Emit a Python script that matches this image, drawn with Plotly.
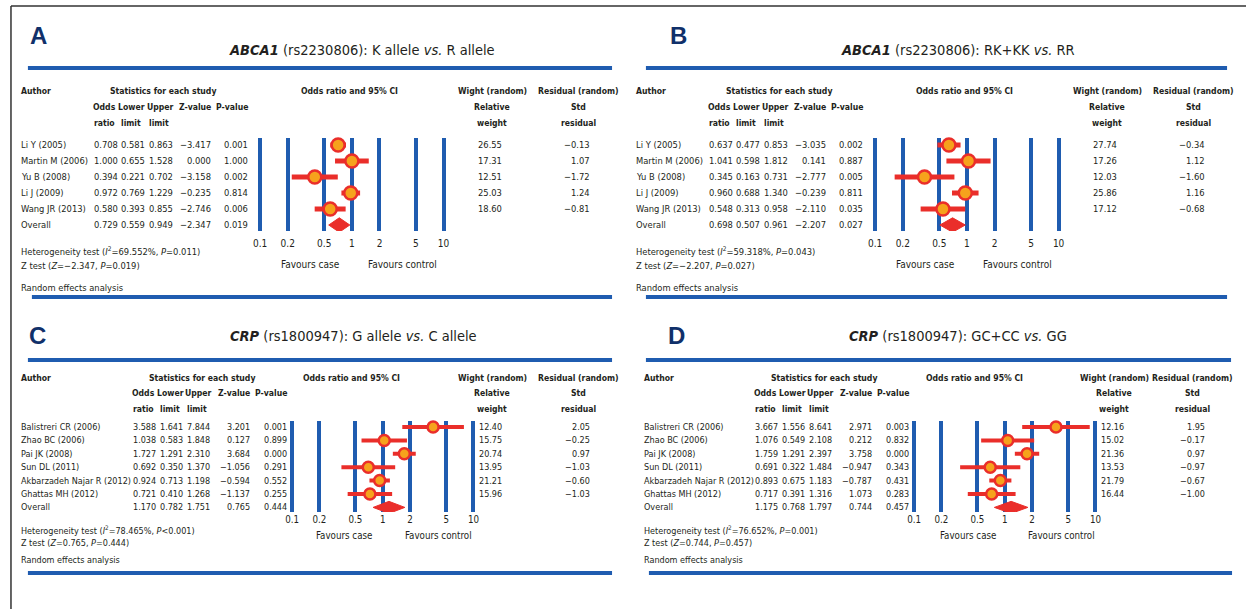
import plotly.graph_objects as go

W, H = 1247, 609
FONT = "DejaVu Sans Condensed, Liberation Sans Narrow, Arial Narrow, sans-serif"
TXT = "#231f20"
RED = "#ea2e2a"
ORANGE = "#f6a21c"
BLUE = "#1f5cb0"
NAVY = "#10306a"

# ---------------- data ----------------
tick_vals = [0.1, 0.2, 0.5, 1, 2, 5, 10]
tick_text = ["0.1", "0.2", "0.5", "1", "2", "5", "10"]

a_authors = ["Li Y (2005)", "Martin M (2006)", "Yu B (2008)", "Li J (2009)", "Wang JR (2013)"]
a_or = [0.708, 1.000, 0.394, 0.972, 0.580]
a_lower = [0.581, 0.655, 0.221, 0.769, 0.393]
a_upper = [0.863, 1.528, 0.702, 1.229, 0.855]
a_z = [-3.417, 0.000, -3.158, -0.235, -2.746]
a_p = [0.001, 1.000, 0.002, 0.814, 0.006]
a_weight = [26.55, 17.31, 12.51, 25.03, 18.60]
a_resid = [-0.13, 1.07, -1.72, 1.24, -0.81]
a_overall = [0.729, 0.559, 0.949, -2.347, 0.019]
a_het = ["69.552%", "<i>P</i>=0.011"]
a_ztest = ["\u22122.347", "0.019"]

b_authors = ["Li Y (2005)", "Martin M (2006)", "Yu B (2008)", "Li J (2009)", "Wang JR (2013)"]
b_or = [0.637, 1.041, 0.345, 0.960, 0.548]
b_lower = [0.477, 0.598, 0.163, 0.688, 0.313]
b_upper = [0.853, 1.812, 0.731, 1.340, 0.958]
b_z = [-3.035, 0.141, -2.777, -0.239, -2.110]
b_p = [0.002, 0.887, 0.005, 0.811, 0.035]
b_weight = [27.74, 17.26, 12.03, 25.86, 17.12]
b_resid = [-0.34, 1.12, -1.60, 1.16, -0.68]
b_overall = [0.698, 0.507, 0.961, -2.207, 0.027]
b_het = ["59.318%", "<i>P</i>=0.043"]
b_ztest = ["\u22122.207", "0.027"]

c_authors = ["Balistreri CR (2006)", "Zhao BC (2006)", "Pai JK (2008)", "Sun DL (2011)",
             "Akbarzadeh Najar R (2012)", "Ghattas MH (2012)"]
c_or = [3.588, 1.038, 1.727, 0.692, 0.924, 0.721]
c_lower = [1.641, 0.583, 1.291, 0.350, 0.713, 0.410]
c_upper = [7.844, 1.848, 2.310, 1.370, 1.198, 1.268]
c_z = [3.201, 0.127, 3.684, -1.056, -0.594, -1.137]
c_p = [0.001, 0.899, 0.000, 0.291, 0.552, 0.255]
c_weight = [12.40, 15.75, 20.74, 13.95, 21.21, 15.96]
c_resid = [2.05, -0.25, 0.97, -1.03, -0.60, -1.03]
c_overall = [1.170, 0.782, 1.751, 0.765, 0.444]
c_het = ["78.465%", "<i>P</i>&lt;0.001"]
c_ztest = ["0.765", "0.444"]

d_authors = ["Balistreri CR (2006)", "Zhao BC (2006)", "Pai JK (2008)", "Sun DL (2011)",
             "Akbarzadeh Najar R (2012)", "Ghattas MH (2012)"]
d_or = [3.667, 1.076, 1.759, 0.691, 0.893, 0.717]
d_lower = [1.556, 0.549, 1.291, 0.322, 0.675, 0.391]
d_upper = [8.641, 2.108, 2.397, 1.484, 1.183, 1.316]
d_z = [2.971, 0.212, 3.758, -0.947, -0.787, 1.073]
d_p = [0.003, 0.832, 0.000, 0.343, 0.431, 0.283]
d_weight = [12.16, 15.02, 21.36, 13.53, 21.79, 16.44]
d_resid = [1.95, -0.17, 0.97, -0.97, -0.67, -1.00]
d_overall = [1.175, 0.768, 1.797, 0.744, 0.457]
d_het = ["76.652%", "<i>P</i>=0.001"]
d_ztest = ["0.744", "0.457"]

titles = [
    "<b><i>ABCA1</i></b> (rs2230806): K allele <i>vs.</i> R allele",
    "<b><i>ABCA1</i></b> (rs2230806): RK+KK <i>vs.</i> RR",
    "<b><i>CRP</i></b> (rs1800947): G allele <i>vs.</i> C allele",
    "<b><i>CRP</i></b> (rs1800947): GC+CC <i>vs.</i> GG",
]
letters = ["A", "B", "C", "D"]

# ---------------- layout (pixel positions) ----------------
top = dict(title_y=50, line_y=68, hdr=[91, 107, 123], row0=145, dy=16.0,
           grid=(138, 231), tick_off=5, het_y=251, z_y=265, fav_y=264,
           rand_y=287, bline_y=297, msize=13, cw=5, fs=9.3, hs=8.6)
bot = dict(title_y=336, line_y=360, hdr=[378, 393, 409], row0=427, dy=13.4,
           grid=(421, 512), tick_off=0, het_y=530, z_y=543, fav_y=535,
           rand_y=560, bline_y=573, msize=11, cw=4, fs=9.0, hs=8.6)

panels = [
    dict(top, authors=a_authors, orr=a_or, lo=a_lower, up=a_upper, z=a_z, p=a_p,
         wt=a_weight, res=a_resid, ov=a_overall, het=a_het, zt=a_ztest,
         letter_x=36, letter_y=35, title_x=360, lx=(25, 611), blx=(29, 611),
         author_x=18, or_x=91, x01=258, x10=442, w_c=489, r_r=589,
         stat_c=161, ci_c=348, wt_c=491, res_c=577, fav_case=308, fav_ctrl=401),
    dict(top, authors=b_authors, orr=b_or, lo=b_lower, up=b_upper, z=b_z, p=b_p,
         wt=b_weight, res=b_resid, ov=b_overall, het=b_het, zt=b_ztest,
         letter_x=678, letter_y=35, title_x=958, lx=(645, 1228), blx=(645, 1228),
         author_x=635, or_x=708, x01=875, x10=1059, w_c=1106, r_r=1206,
         stat_c=778, ci_c=965, wt_c=1108, res_c=1194, fav_case=925, fav_ctrl=1018),
    dict(bot, authors=c_authors, orr=c_or, lo=c_lower, up=c_upper, z=c_z, p=c_p,
         wt=c_weight, res=c_resid, ov=c_overall, het=c_het, zt=c_ztest,
         letter_x=35, letter_y=335, title_x=352, lx=(25, 611), blx=(25, 611),
         author_x=18, or_x=130, x01=290, x10=472, w_c=489, r_r=589,
         stat_c=200, ci_c=350, wt_c=491, res_c=577, fav_case=342, fav_ctrl=437),
    dict(bot, authors=d_authors, orr=d_or, lo=d_lower, up=d_upper, z=d_z, p=d_p,
         wt=d_weight, res=d_resid, ov=d_overall, het=d_het, zt=d_ztest,
         letter_x=676, letter_y=335, title_x=958, lx=(645, 1232), blx=(648, 1233),
         author_x=643, or_x=754, x01=914, x10=1096, w_c=1113, r_r=1206,
         stat_c=824, ci_c=975, wt_c=1115, res_c=1193, fav_case=968, fav_ctrl=1062),
]
# column offsets relative to the odds-ratio column
LO_OFF, UP_OFF, Z_OFF, P_OFF = 27, 55, 118, 155


def px(x):
    return x / W


def py(y):
    return 1 - y / H


def num(v, d=3):
    return f"{v:.{d}f}".replace("-", "\u2212")


fig = go.Figure()
ann = []
shapes = []


def text(t, x, y, anchor="left", size=10, color=TXT, yref="paper", family=FONT):
    # x in pixels; compensate the annotation's inner padding (2px)
    if anchor == "left":
        x -= 2
    elif anchor == "right":
        x += 2
    ann.append(dict(text=t, x=px(x), y=y, xref="paper", yref=yref, xanchor=anchor,
                    yanchor="middle", showarrow=False,
                    font=dict(family=family, size=size, color=color)))


def hline(x0, x1, y, color=BLUE, width=4):
    shapes.append(dict(type="line", xref="paper", yref="paper", x0=px(x0), x1=px(x1),
                       y0=py(y), y1=py(y), line=dict(color=color, width=width)))


for k, P in enumerate(panels, start=1):
    xa = "x" if k == 1 else f"x{k}"
    ya = "y" if k == 1 else f"y{k}"
    n = len(P["authors"])
    ys = [-i for i in range(n)]
    fs, hs = P["fs"], P["hs"]

    e = 0.05
    dec = (P["x10"] - P["x01"]) / 2
    gtop, gbot = P["grid"]
    fig.update_layout(**{
        ("xaxis" if k == 1 else f"xaxis{k}"): dict(
            type="log", domain=[px(P["x01"] - e * dec), px(P["x10"] + e * dec)],
            range=[-1 - e, 1 + e], anchor=ya, tickvals=tick_vals, ticktext=tick_text,
            showgrid=True, gridcolor=BLUE, gridwidth=4, zeroline=False, showline=False,
            ticks="", ticklabelstandoff=P["tick_off"],
            tickfont=dict(family=FONT, size=fs + 0.7, color=TXT), fixedrange=True),
        ("yaxis" if k == 1 else f"yaxis{k}"): dict(
            domain=[py(gbot), py(gtop)],
            range=[(P["row0"] - gbot) / P["dy"], (P["row0"] - gtop) / P["dy"]],
            anchor=xa, showgrid=False, zeroline=False, showline=False,
            showticklabels=False, ticks="", fixedrange=True),
    })

    # CI lines
    cx, cy = [], []
    for lo, up, y in zip(P["lo"], P["up"], ys):
        cx += [lo, up, None]
        cy += [y, y, None]
    fig.add_trace(go.Scatter(x=cx, y=cy, xaxis=xa, yaxis=ya, mode="lines",
                             line=dict(color=RED, width=P["cw"]), hoverinfo="skip",
                             showlegend=False, cliponaxis=False))
    # point estimates
    fig.add_trace(go.Scatter(x=P["orr"], y=ys, xaxis=xa, yaxis=ya, mode="markers",
                             marker=dict(size=P["msize"], color=ORANGE,
                                         line=dict(color=RED, width=2.5)),
                             showlegend=False, cliponaxis=False))
    # overall diamond
    o, lo, up = P["ov"][0], P["ov"][1], P["ov"][2]
    yo = -n
    h = 0.45
    fig.add_trace(go.Scatter(x=[lo, o, up, o, lo], y=[yo, yo + h, yo, yo - h, yo],
                             xaxis=xa, yaxis=ya, mode="lines", fill="toself",
                             fillcolor=RED, line=dict(color=RED, width=1),
                             showlegend=False, cliponaxis=False, hoverinfo="skip"))

    # row text
    ox = P["or_x"]
    rows = list(zip(P["authors"], P["orr"], P["lo"], P["up"], P["z"], P["p"]))
    rows.append(("Overall", *P["ov"]))
    for i, (a, orr, lo_, up_, z, p) in enumerate(rows):
        y = -i
        text(a, P["author_x"], y, yref=ya, size=fs)
        text(num(orr), ox, y, yref=ya, size=fs)
        text(num(lo_), ox + LO_OFF, y, yref=ya, size=fs)
        text(num(up_), ox + UP_OFF, y, yref=ya, size=fs)
        text(num(z), ox + Z_OFF, y, anchor="right", yref=ya, size=fs)
        text(num(p), ox + P_OFF, y, anchor="right", yref=ya, size=fs)
    for i, (w, r) in enumerate(zip(P["wt"], P["res"])):
        text(num(w, 2), P["w_c"], -i, anchor="center", yref=ya, size=fs)
        text(num(r, 2), P["r_r"], -i, anchor="right", yref=ya, size=fs)

    # headers
    h1, h2, h3 = P["hdr"]
    text("<b>Author</b>", P["author_x"], py(h1), size=hs)
    text("<b>Statistics for each study</b>", P["stat_c"], py(h1), anchor="center", size=hs)
    text("<b>Odds ratio and 95% CI</b>", P["ci_c"], py(h1), anchor="center", size=hs)
    text("<b>Wight (random)</b>", P["wt_c"], py(h1), anchor="center", size=hs)
    text("<b>Residual (random)</b>", P["res_c"], py(h1), anchor="center", size=hs)
    text("<b>Odds</b>", ox - 1, py(h2), size=hs)
    text("<b>Lower</b>", ox + 24, py(h2), size=hs)
    text("<b>Upper</b>", ox + 53, py(h2), size=hs)
    text("<b>Z-value</b>", ox + Z_OFF, py(h2), anchor="right", size=hs)
    text("<b>P-value</b>", ox + P_OFF, py(h2), anchor="right", size=hs)
    text("<b>Relative</b>", P["wt_c"], py(h2), anchor="center", size=hs)
    text("<b>Std</b>", P["res_c"], py(h2), anchor="center", size=hs)
    text("<b>ratio</b>", ox, py(h3), size=hs)
    text("<b>limit</b>", ox + LO_OFF, py(h3), size=hs)
    text("<b>limit</b>", ox + UP_OFF, py(h3), size=hs)
    text("<b>weight</b>", P["wt_c"], py(h3), anchor="center", size=hs)
    text("<b>residual</b>", P["res_c"], py(h3), anchor="center", size=hs)

    # footer
    text(f"Heterogeneity test (<i>I</i><sup>2</sup>={P['het'][0]}, {P['het'][1]})",
         P["author_x"], py(P["het_y"]), size=fs)
    text(f"Z test (<i>Z</i>={P['zt'][0]}, <i>P</i>={P['zt'][1]})",
         P["author_x"], py(P["z_y"]), size=fs)
    text("Random effects analysis", P["author_x"], py(P["rand_y"]), size=fs)
    text("Favours case", P["fav_case"], py(P["fav_y"]), anchor="center", size=fs + 0.7)
    text("Favours control", P["fav_ctrl"], py(P["fav_y"]), anchor="center", size=fs + 0.7)

    # title, letter, rules
    text(titles[k - 1], P["title_x"], py(P["title_y"]), anchor="center", size=14.5)
    text(f"<b>{letters[k - 1]}</b>", P["letter_x"], py(P["letter_y"]), anchor="center",
         size=24, color=NAVY, family="Liberation Sans, Arial, sans-serif")
    hline(P["lx"][0], P["lx"][1], P["line_y"])
    hline(P["blx"][0], P["blx"][1], P["bline_y"])

# outer frame
shapes.append(dict(type="line", xref="paper", yref="paper", x0=px(8), x1=1, y0=py(6), y1=py(6),
                   line=dict(color="#333333", width=1.5)))
shapes.append(dict(type="line", xref="paper", yref="paper", x0=px(8), x1=px(8), y0=py(6), y1=0,
                   line=dict(color="#333333", width=1.5)))

fig.update_layout(width=W, height=H, margin=dict(l=0, r=0, t=0, b=0),
                  paper_bgcolor="white", plot_bgcolor="rgba(0,0,0,0)",
                  annotations=ann, shapes=shapes, showlegend=False,
                  font=dict(family=FONT, color=TXT))

fig.write_html("out.html", config={"displayModeBar": False},
               post_script="document.body.style.margin='0';document.body.style.overflow='hidden';")
